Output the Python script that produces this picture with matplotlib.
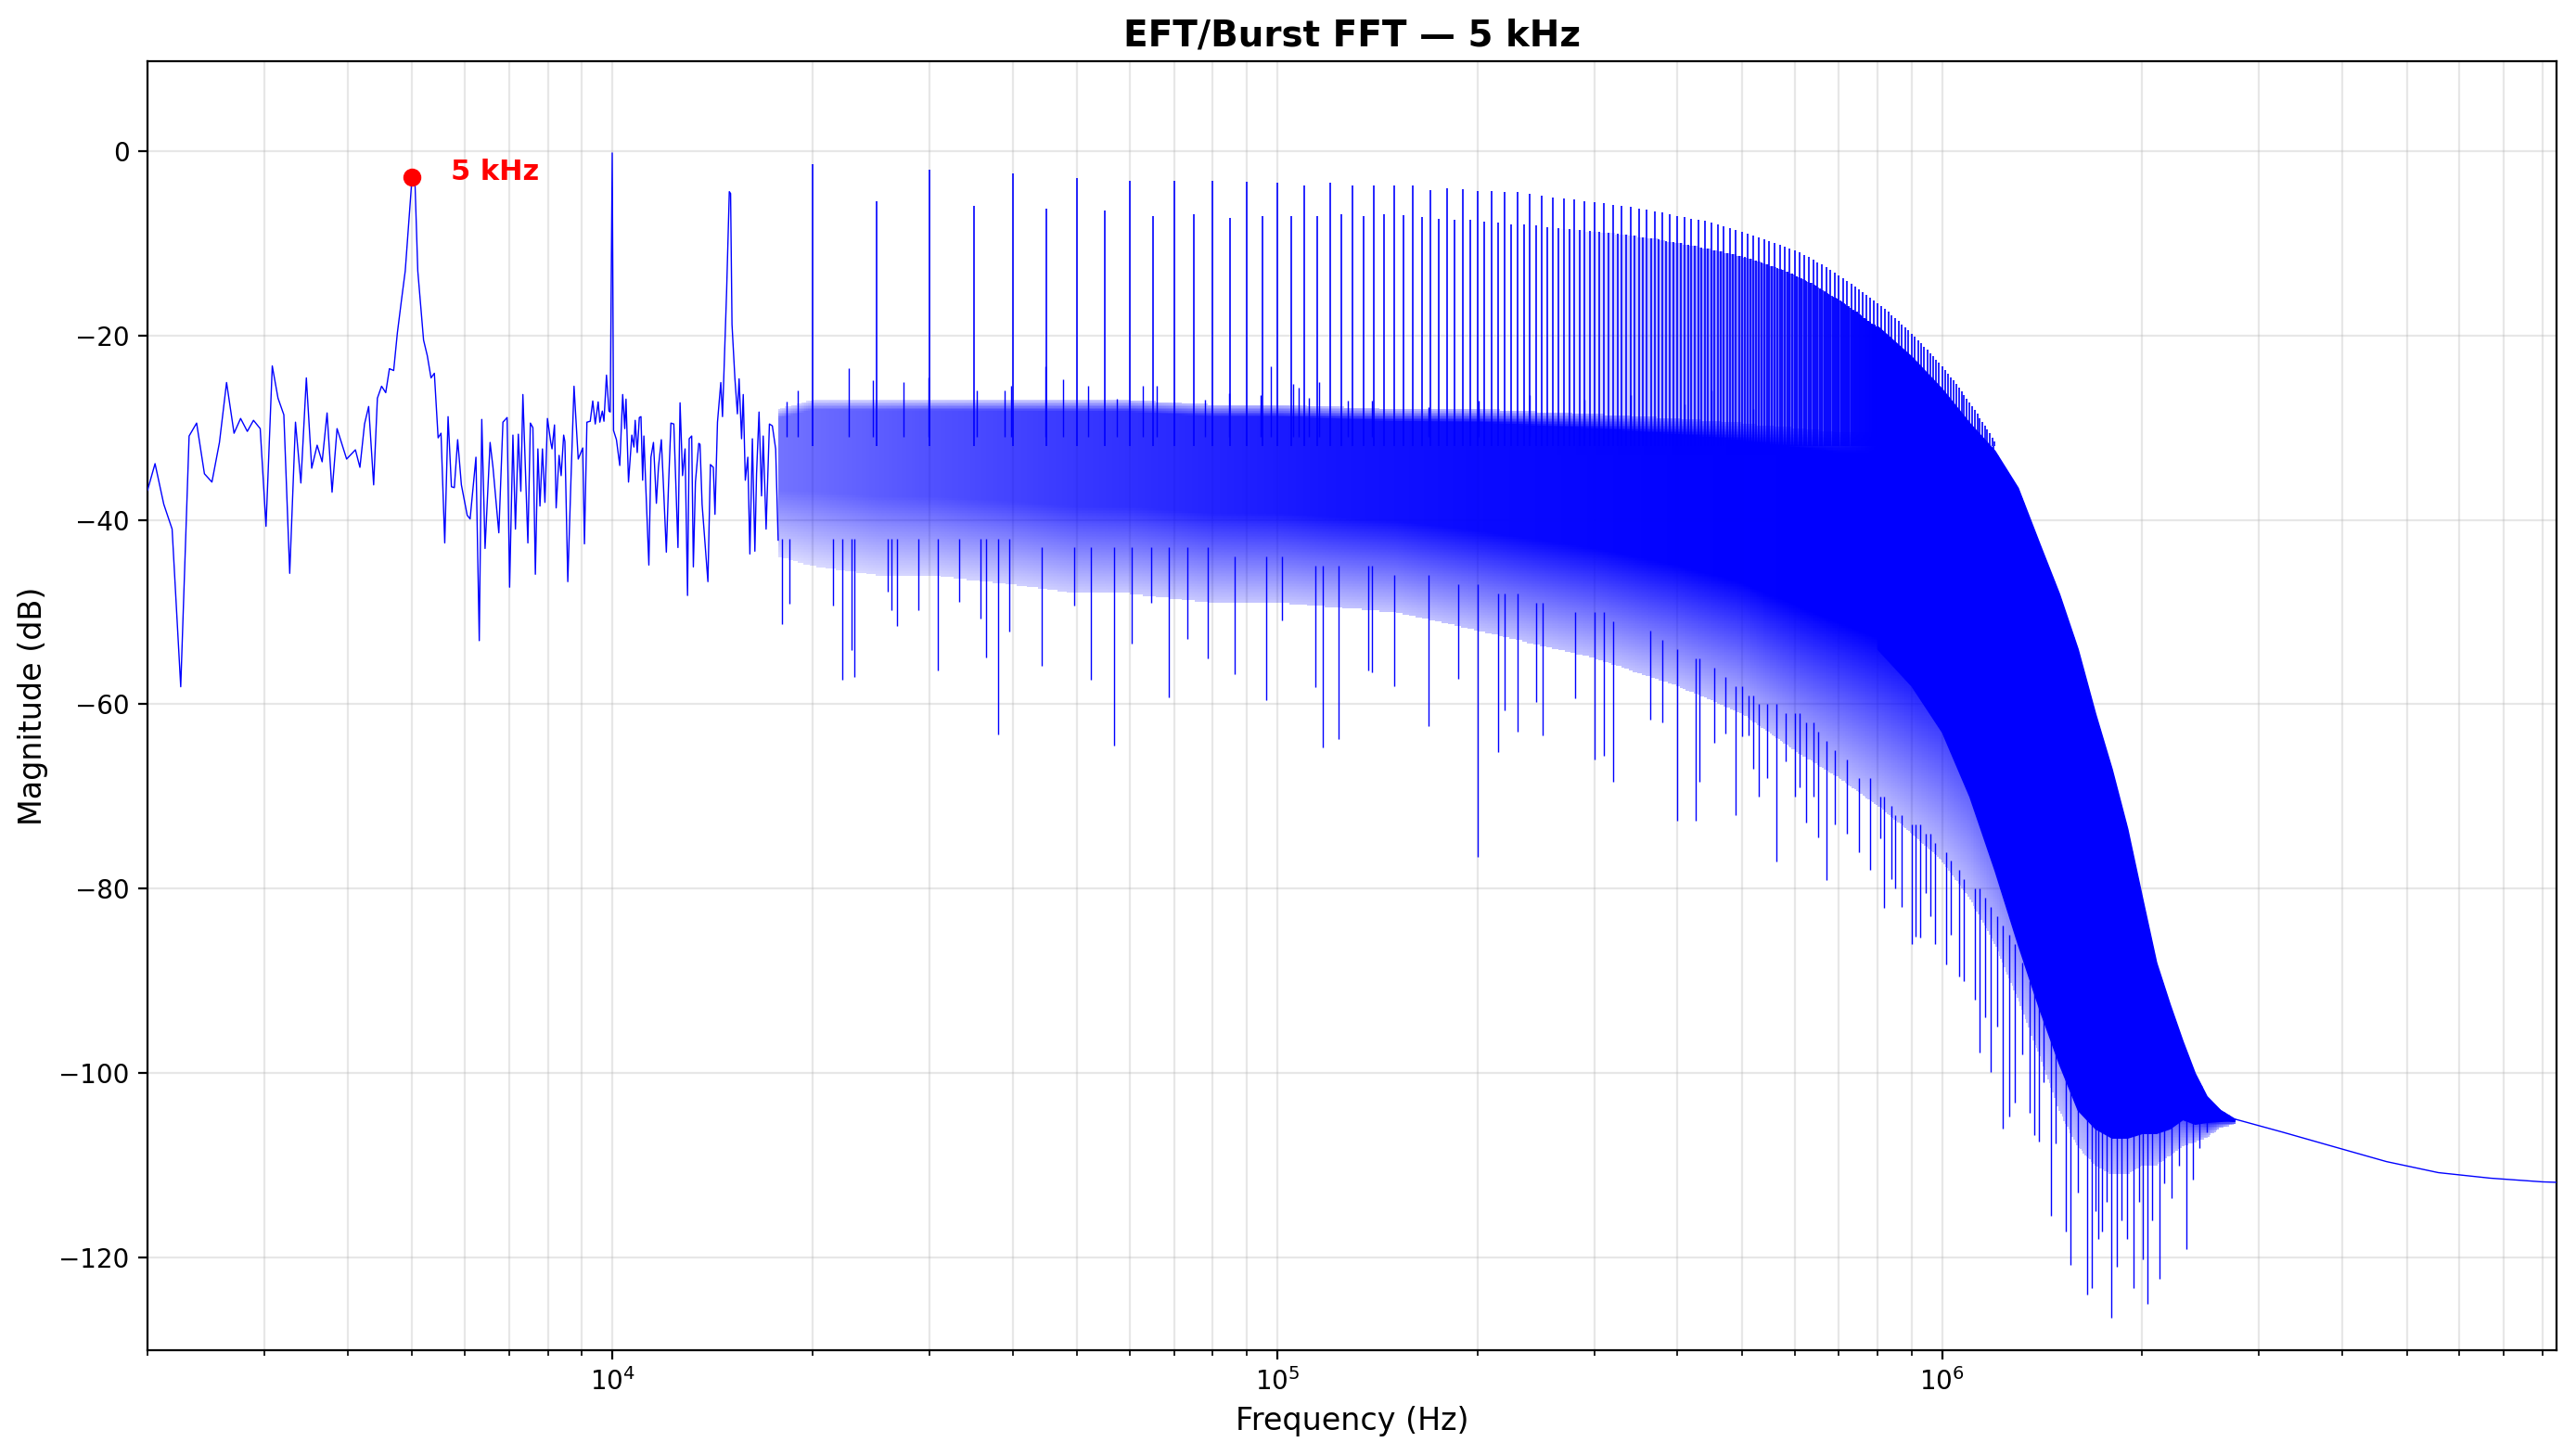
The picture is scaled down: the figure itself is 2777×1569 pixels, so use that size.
import numpy as np
import matplotlib
matplotlib.use("Agg")
import matplotlib.pyplot as plt
from matplotlib.colors import ListedColormap

# ---------------- data ----------------
# low-frequency trace (individually visible FFT bins)
lf_hz = [2000, 2053, 2116, 2178, 2244, 2310, 2371, 2436, 2500, 2566, 2630, 2699, 2761, 2826,
         2887, 2955, 3015, 3081, 3143, 3207, 3273, 3339, 3402, 3467, 3532, 3599, 3662, 3725,
         3790, 3856, 3986, 4109, 4174, 4241, 4302, 4377, 4434, 4499, 4564, 4623, 4691, 4752,
         4821, 4883, 5000, 5050, 5100, 5203, 5271, 5339, 5401, 5472, 5527, 5599, 5664, 5730,
         5788, 5855, 5931, 6052, 6113, 6238, 6310, 6365, 6438, 6551, 6617, 6752, 6849, 6949,
         7009, 7090, 7152, 7224, 7287, 7339, 7467, 7532, 7598, 7663, 7730, 7786, 7853, 7921,
         7990, 8083, 8118, 8188, 8235, 8319, 8379, 8452, 8488, 8574, 8674, 8761, 8889, 9030,
         9083, 9161, 9267, 9348, 9429, 9525, 9580, 9663, 9718, 9803, 9888, 9931, 10000, 10046,
         10147, 10265, 10369, 10444, 10489, 10580, 10703, 10780, 10827, 10905, 10984, 11047,
         11111, 11159, 11240, 11353, 11435, 11535, 11652, 11736, 11854, 11940, 12061, 12148,
         12254, 12378, 12557, 12648, 12758, 12869, 12980, 13055, 13168, 13244, 13340, 13495,
         13553, 13651, 13829, 13929, 14050, 14192, 14274, 14398, 14565, 14651, 14736, 14861,
         15000, 15067, 15141, 15295, 15427, 15517, 15651, 15742, 15855, 15993, 16108, 16248,
         16389, 16484, 16627, 16771, 16868, 17039, 17236, 17411, 17612, 17765]
lf_db = [-36.8, -33.9, -38.3, -41.0, -58.1, -30.9, -29.5, -35.0, -35.9, -31.6, -25.1, -30.6, -29.0, -30.4,
         -29.2, -30.1, -40.7, -23.3, -26.8, -28.6, -45.8, -29.4, -36.0, -24.6, -34.4, -31.9, -33.7, -28.4,
         -37.0, -30.1, -33.4, -32.4, -34.3, -29.6, -27.7, -36.2, -26.8, -25.5, -26.2, -23.6, -23.8, -19.7,
         -16.1, -13.0, -2.8, -3.3, -13.0, -20.5, -22.2, -24.6, -24.1, -31.1, -30.6, -42.5, -28.8, -36.4,
         -36.5, -31.3, -36.2, -39.5, -39.9, -33.2, -53.1, -29.1, -43.1, -31.6, -34.3, -41.4, -29.4, -28.9,
         -47.3, -30.8, -41.0, -30.7, -36.9, -26.4, -42.5, -29.5, -30.0, -45.9, -32.3, -38.5, -32.3, -38.1,
         -29.0, -31.6, -32.3, -29.7, -38.7, -33.0, -35.2, -30.8, -31.5, -46.7, -35.0, -25.5, -33.4, -32.2,
         -42.6, -29.4, -29.3, -27.1, -29.6, -27.2, -29.4, -28.2, -29.3, -24.3, -28.2, -28.3, -0.2, -30.3,
         -31.3, -34.1, -26.4, -30.1, -26.9, -35.9, -30.8, -32.1, -29.2, -32.7, -28.9, -28.8,
         -35.7, -30.9, -36.9, -44.9, -33.2, -31.6, -38.2, -34.3, -31.3, -36.2, -43.5, -36.6,
         -29.5, -29.6, -43.0, -27.3, -35.2, -32.3, -48.2, -31.2, -30.9, -45.1, -35.9, -31.7,
         -31.8, -38.3, -43.7, -46.7, -34.0, -34.3, -39.4, -29.4, -25.1, -28.8, -23.3, -15.2,
         -4.4, -4.6, -18.8, -24.7, -28.5, -24.7, -31.2, -26.4, -35.7, -33.2, -43.7, -31.2,
         -43.4, -35.0, -28.3, -37.4, -30.9, -41.0, -29.6, -29.8, -32.3, -42.2]

# harmonic peaks of the 5 kHz repetition (multiples of 10 kHz and odd multiples of 5 kHz)
harm_even_hz = list(range(20000, 1200001, 10000))
harm_even_db = [-1.4, -2.0, -2.4, -2.9, -3.2, -3.2, -3.2, -3.3, -3.4,
                -3.7, -3.4, -3.7, -3.7, -3.7, -3.7, -4.2, -4.0, -4.1, -4.3,
                -4.3, -4.4, -4.4, -4.6, -4.8, -5.0, -5.1, -5.2, -5.4, -5.5,
                -5.6, -5.8, -5.9, -6.0, -6.2, -6.3, -6.5, -6.6, -6.8, -7.0,
                -7.1, -7.3, -7.4, -7.6, -7.8, -8.0, -8.2, -8.4, -8.6, -8.8,
                -9.0, -9.2, -9.4, -9.6, -9.8, -10.0, -10.2, -10.4, -10.6, -10.8,
                -11.0, -11.3, -11.5, -11.8, -12.1, -12.3, -12.6, -12.9, -13.2, -13.5,
                -13.8, -14.1, -14.4, -14.7, -15.0, -15.3, -15.6, -15.9, -16.2, -16.5,
                -16.8, -17.1, -17.4, -17.8, -18.1, -18.4, -18.8, -19.1, -19.4, -19.8,
                -20.1, -20.5, -20.8, -21.2, -21.5, -21.9, -22.2, -22.6, -22.9, -23.3,
                -23.7, -24.1, -24.5, -24.9, -25.3, -25.7, -26.1, -26.5, -26.9, -27.3,
                -27.7, -28.1, -28.5, -29.0, -29.4, -29.8, -30.2, -30.6, -31.1, -31.5]
harm_odd_hz = list(range(25000, 1195001, 10000))
harm_odd_db = [-5.4, -5.9, -6.2, -6.4, -7.0, -6.8, -7.2, -7.0,
               -7.0, -7.0, -6.8, -7.0, -6.8, -6.9, -7.1, -7.3, -7.4, -7.5,
               -7.7, -7.8, -8.0, -8.0, -8.1, -8.3, -8.4, -8.5, -8.6, -8.7,
               -8.8, -8.9, -9.0, -9.1, -9.2, -9.4, -9.5, -9.6, -9.8, -9.9,
               -10.0, -10.2, -10.3, -10.5, -10.6, -10.8, -10.9, -11.1, -11.2, -11.4,
               -11.5, -11.7, -11.9, -12.1, -12.3, -12.5, -12.7, -12.9, -13.1, -13.3,
               -13.6, -13.8, -14.1, -14.3, -14.6, -14.9, -15.2, -15.5, -15.8, -16.0,
               -16.3, -16.6, -16.9, -17.2, -17.5, -17.8, -18.1, -18.4, -18.7, -19.0,
               -19.3, -19.6, -19.9, -20.3, -20.6, -20.9, -21.3, -21.6, -21.9, -22.3,
               -22.6, -23.0, -23.3, -23.7, -24.0, -24.4, -24.7, -25.1, -25.4, -25.8,
               -26.2, -26.6, -27.0, -27.4, -27.8, -28.2, -28.6, -29.0, -29.4, -29.8,
               -30.2, -30.6, -31.0, -31.4, -31.9, -32.3, -32.7, -33.1, -33.5, -34.0]

# broadband noise band under the harmonics (top / bottom reach of the trace)
noise_hz = [17800, 20000, 25000, 30000, 40000, 50000, 60000, 80000, 100000, 150000,
            200000, 300000, 400000, 500000, 600000, 700000, 800000, 900000, 1.0e6, 1.1e6,
            1.2e6, 1.3e6, 1.4e6, 1.5e6, 1.6e6, 1.7e6, 1.8e6, 1.9e6, 2.0e6, 2.1e6,
            2.2e6, 2.3e6, 2.4e6, 2.5e6, 2.62e6, 2.76e6]
noise_hi = [-28, -27, -27, -27, -27, -27, -27, -27.5, -27.5, -28,
            -28, -28.5, -29, -29.5, -30, -30.5, -30.5, -30.5, -30, -29.5,
            -32.5, -36.5, -42.5, -48, -54, -61, -67, -73.5, -81, -88,
            -92.5, -96.5, -100, -102.5, -104, -105]
noise_lo = [-44, -45, -46, -46, -47, -48, -48, -49, -49, -50,
            -52, -55, -58, -61, -65, -68, -71, -74, -77, -81,
            -86, -92, -98, -104, -108, -110, -111, -111, -110, -110,
            -109, -108, -107.5, -107, -106, -105.5]

# how much of the band is inked by the trace, per frequency
dens_hz = [17800, 30000, 50000, 80000, 120000, 200000, 400000, 700000, 2.76e6]
dens = [0.55, 0.68, 0.78, 0.86, 0.92, 0.96, 0.99, 1.0, 1.0]

# how much of the space between band top and lower harmonic envelope is inked
comb_hz = [250000, 400000, 550000, 700000, 800000, 2.76e6]
comb = [0.0, 0.3, 0.55, 0.8, 1.0, 1.0]

# fully merged region: lower harmonic envelope and solid lower edge
dense_hz = [800e3, 900e3, 1.0e6, 1.1e6, 1.2e6, 1.3e6, 1.4e6, 1.5e6, 1.6e6, 1.7e6,
            1.8e6, 1.9e6, 2.0e6, 2.1e6, 2.2e6, 2.3e6, 2.4e6, 2.5e6, 2.62e6, 2.76e6]
dense_top = [-19.0, -22.3, -25.8, -29.5, -32.5, -36.5, -42.5, -48, -54, -61,
             -67, -73.5, -81, -88, -92.5, -96.5, -100, -102.5, -104, -105]
dense_lo = [-54, -58, -63, -70, -78, -86, -93, -99, -104, -106,
            -107, -107, -106.5, -106.5, -106, -105, -105.5, -105.3, -105.2, -105]

# upward noise spikes above the band
spike_hz = [18300, 19000, 22700, 24700, 27400, 29900, 35400, 38900, 39800, 44800, 47700,
            52000, 57500, 62900, 65900, 77900, 84600, 94400, 97800, 105600, 107900,
            111600, 115700, 127600, 138800, 169000, 201000, 240000, 290000, 340000,
            410000, 450000, 520000]
spike_db = [-27.2, -26.0, -23.5, -24.9, -25.1, -24.5, -26.0, -26.0, -25.5, -23.3, -24.7,
            -25.5, -26.9, -25.5, -25.5, -27.0, -26.3, -26.5, -23.3, -25.3, -25.7,
            -26.8, -25.1, -27.1, -27.1, -27.8, -27.1, -26.5, -27.0, -26.5,
            -27.5, -26.0, -28.0]

# downward dips below the band (start, end)
dip_hz = [18030, 18450, 21500, 22200, 22900, 23100, 26000, 26300, 26800, 28900, 30900,
          33200, 35800, 36500, 38000, 39600, 44300, 49500, 52400, 56800, 60500, 64700,
          68800, 73400, 78700, 86200, 96300, 101800, 114000, 117000, 123700, 137000,
          139000, 150000, 169000, 187000, 200000, 214800, 219800, 230000, 244900, 250600,
          281000, 300000, 310000, 320000, 364000, 380000, 400000, 425600, 431000, 455000,
          472800, 490000, 500000, 511700, 520000, 530000, 545000, 563600, 582600, 600000,
          610000, 625000, 640000, 651000, 669700, 689500, 720000, 750000, 780000, 807000,
          818500, 840000, 850000, 870000, 900000, 912700, 928000, 946000, 960000, 977000,
          1015000, 1030000, 1062000, 1080000, 1120000, 1139000, 1160000, 1184000, 1210000,
          1236000, 1263000, 1285000, 1320000, 1353000, 1377000, 1397000, 1420000, 1457000,
          1481000, 1537000, 1559000, 1600000, 1653000, 1681000, 1700000, 1720000, 1742000,
          1770000, 1797000, 1832000, 1860000, 1900000, 1940000, 1980000, 2007000, 2040000,
          2070000, 2125000, 2160000, 2211000, 2270000, 2333000, 2384000, 2441000, 2502000]
dip_top = [-42, -42, -42, -42, -42, -42, -42, -42, -42, -42, -42,
           -42, -42, -42, -42, -42, -43, -43, -43, -43, -43, -43,
           -43, -43, -43, -44, -44, -44, -45, -45, -45, -45,
           -45, -46, -46, -47, -47, -48, -48, -48, -49, -49,
           -50, -50, -50, -51, -52, -53, -54, -55, -55, -56,
           -57, -58, -58, -59, -59, -60, -60, -60, -61, -61,
           -61, -62, -62, -63, -64, -65, -66, -68, -68, -70,
           -70, -71, -72, -72, -73, -73, -73, -74, -74, -75,
           -76, -77, -78, -79, -80, -80, -81, -82, -83,
           -84, -85, -86, -88, -90, -91, -92, -93, -96,
           -97, -100, -101, -103, -104, -104, -105, -105, -105,
           -106, -106, -106, -106, -106, -106, -106, -106, -106,
           -106, -106, -106, -105, -105, -104, -104, -104, -104]
dip_db = [-51.3, -49.1, -49.3, -57.3, -54.1, -57.0, -47.8, -49.8, -51.5, -49.8, -56.3,
          -48.9, -50.7, -54.9, -63.3, -52.1, -55.8, -49.3, -57.3, -64.5, -53.4, -49.0,
          -59.3, -52.9, -55.0, -56.7, -59.6, -50.9, -58.1, -64.7, -63.8, -56.3,
          -56.5, -58.0, -62.4, -57.2, -76.5, -65.2, -60.7, -63.0, -59.8, -63.4,
          -59.4, -66.0, -65.6, -68.4, -61.7, -62.0, -72.6, -72.6, -68.4, -64.2,
          -63.2, -72.0, -63.5, -63.4, -67.0, -70.0, -68.0, -77.1, -66.2, -70.0,
          -69.0, -72.8, -70.0, -74.4, -79.1, -73.0, -74.0, -76.0, -78.0, -74.5,
          -82.1, -79.0, -80.0, -82.0, -86.0, -85.2, -85.3, -80.5, -83.0, -86.0,
          -88.2, -85.0, -89.5, -90.0, -92.0, -97.8, -94.0, -99.9, -95.0,
          -106.0, -104.7, -103.2, -98.0, -104.3, -106.7, -107.4, -101.0, -115.5,
          -107.6, -117.2, -120.8, -113.0, -124.0, -123.3, -115.0, -118.0, -117.2,
          -114.0, -126.5, -121.0, -116.0, -118.0, -123.3, -114.0, -120.2, -125.0,
          -116.0, -122.3, -112.0, -113.6, -110.0, -119.1, -111.6, -108.1, -106.4]

# smooth tail above the burst bandwidth
tail_hz = [2.76e6, 3.25e6, 3.89e6, 4.66e6, 5.58e6, 6.68e6, 8.0e6, 8.4e6]
tail_db = [-105.0, -106.4, -108.0, -109.6, -110.8, -111.4, -111.8, -111.85]

marker_hz, marker_db = 5000, -2.8
marker_label = "5 kHz"

# ---------------- figure ----------------
W, H, DPI = 2777, 1569, 200
YLIM = (-130.06, 9.78)
fig = plt.figure(figsize=(W / DPI, H / DPI), dpi=DPI)
ax = fig.add_axes([159 / W, 1 - 1456 / H, (2756 - 159) / W, (1456 - 65.7) / H])
ax.set_xscale("log")
ax.set_axisbelow(True)

BLUE = "#0000ff"
LW = 0.5

# shading of the regions where the trace is too dense to resolve
ink = ListedColormap([(0, 0, 1, a) for a in np.linspace(0, 1, 256)])
xe = np.geomspace(noise_hz[0], noise_hz[-1], 900)
ye = np.linspace(YLIM[0], YLIM[1], 900)
xc = np.sqrt(xe[:-1] * xe[1:])
yc = 0.5 * (ye[:-1] + ye[1:])
lx = np.log10(xc)
hi = np.interp(lx, np.log10(noise_hz), noise_hi)
lo = np.interp(lx, np.log10(noise_hz), noise_lo)
dx = np.interp(lx, np.log10(dens_hz), dens)
t = (yc[:, None] - lo[None, :]) / np.maximum(hi - lo, 0.5)[None, :]
prof = 0.25 + 0.75 * np.clip(np.minimum(t / 0.45, (1 - t) / 0.06), 0, 1)
C1 = np.where((t >= 0) & (t <= 1), prof * dx[None, :], 0.0)
# comb of unresolved harmonics between band top and the lower harmonic envelope
env = np.interp(lx, np.log10(harm_odd_hz), harm_odd_db)
cx = np.interp(lx, np.log10(comb_hz), comb)
C2 = np.where((yc[:, None] >= -33) & (yc[:, None] <= env[None, :]), cx[None, :], 0.0)
C = 1 - (1 - C1) * (1 - C2)
ax.pcolormesh(xe, ye, C, cmap=ink, vmin=0, vmax=1, shading="flat", zorder=1)

# merged dense region
ax.fill_between(dense_hz, dense_lo, dense_top, facecolor=BLUE, edgecolor=BLUE,
                linewidth=LW, zorder=1)

# harmonics, spikes and dips
ax.vlines(harm_even_hz, -32, harm_even_db, colors=BLUE, linewidth=0.6, zorder=2)
ax.vlines(harm_odd_hz, -32, harm_odd_db, colors=BLUE, linewidth=0.6, zorder=2)
ax.vlines(spike_hz, -31, spike_db, colors=BLUE, linewidth=LW, zorder=2)
ax.vlines(dip_hz, dip_top, dip_db, colors=BLUE, linewidth=LW, zorder=2)

# individually resolved low-frequency trace and the tail
ax.plot(lf_hz, lf_db, color=BLUE, linewidth=LW, zorder=3)
ax.plot(tail_hz, tail_db, color=BLUE, linewidth=LW, zorder=3)

# marker + label
ax.plot([marker_hz], [marker_db], "o", color="red", markersize=6, zorder=4)
ax.annotate(marker_label, (marker_hz, marker_db), xytext=(15, -1),
            textcoords="offset points", color="red", fontsize=11, fontweight="bold")

ax.set_xlim(2000, 8.4e6)
ax.set_ylim(*YLIM)
ax.set_yticks([-120, -100, -80, -60, -40, -20, 0])
ax.grid(True, which="both", alpha=0.3)
ax.set_xlabel("Frequency (Hz)", fontsize=12)
ax.set_ylabel("Magnitude (dB)", fontsize=12)
ax.set_title("EFT/Burst FFT — 5 kHz", fontsize=14, fontweight="bold")

fig.savefig("out.png", dpi=DPI)
